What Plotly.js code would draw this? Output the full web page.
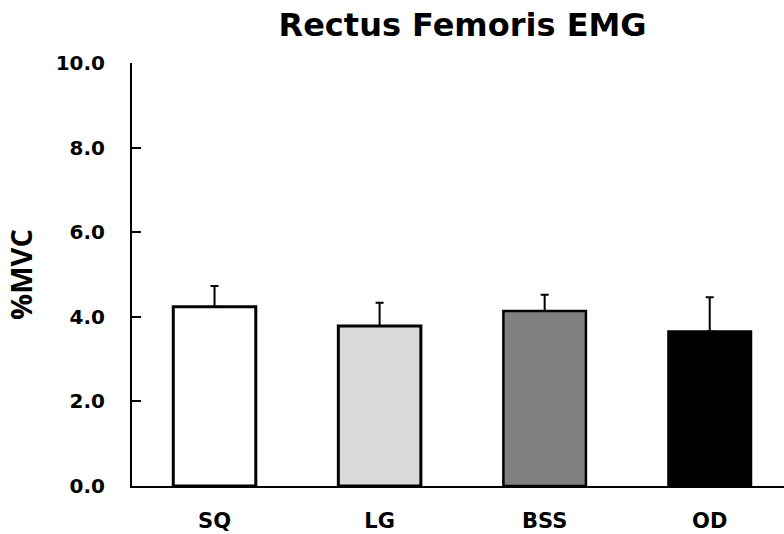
<!DOCTYPE html>
<html>
<head>
<meta charset="utf-8">
<script src="https://cdn.plot.ly/plotly-3.0.1.min.js"></script>
<style>html,body{margin:0;padding:0;background:#fff;}#chart{width:784px;height:534px;}</style>
</head>
<body>
<div id="chart"></div>
<script>
const categories = ["SQ", "LG", "BSS", "OD"];
const means = [4.24, 3.78, 4.14, 3.65];
const sdUpper = [0.49, 0.55, 0.38, 0.81];
const barColors = ["#ffffff", "#d9d9d9", "#808080", "#000000"];
const yTickVals = [0, 2, 4, 6, 8, 10];
const yTickText = ["0.0", "2.0", "4.0", "6.0", "8.0", "10.0"];

const FONT = "'DejaVu Sans', 'Open Sans', sans-serif";
const FONT2 = "'Open Sans', 'Noto Sans', sans-serif";

const trace = {
  type: "bar",
  x: categories,
  y: means,
  width: 0.5,
  marker: { color: barColors, line: { color: "#000000", width: [3, 3, 2.5, 2.5] } },
  error_y: { type: "data", symmetric: false, array: sdUpper, arrayminus: [0, 0, 0, 0], color: "#000000", thickness: 2, width: 4 },
  hoverinfo: "skip"
};

const layout = {
  width: 784, height: 534,
  margin: { l: 132, r: 0, t: 63, b: 48 },
  paper_bgcolor: "#ffffff", plot_bgcolor: "#ffffff",
  showlegend: false,
  title: { text: "<b>Rectus Femoris EMG</b>", font: { family: FONT, size: 32, color: "#000" }, x: 0.59, xanchor: "center", y: 0.953, yanchor: "middle" },
  xaxis: {
    range: [-0.5, 3.45], showgrid: false, zeroline: false,
    showline: true, linecolor: "#000", linewidth: 2,
    ticks: "", ticklabelstandoff: 15,
    tickfont: { family: FONT, size: 21, color: "#000", weight: "bold" },
    fixedrange: true
  },
  yaxis: {
    range: [0, 10], showgrid: false, zeroline: false,
    showline: true, linecolor: "#000", linewidth: 2,
    ticks: "inside", ticklen: 9, tickwidth: 2, tickcolor: "#000",
    tickvals: yTickVals, ticktext: yTickText, ticklabelstandoff: 21,
    tickfont: { family: FONT, size: 20, color: "#000", weight: "bold" },
    title: { text: "<b>%MVC</b>", font: { family: FONT2, size: 29, color: "#000" }, standoff: 14 },
    fixedrange: true
  },
  bargap: 0.5
};

Plotly.newPlot("chart", [trace], layout, { displayModeBar: false, staticPlot: true });
</script>
</body>
</html>
